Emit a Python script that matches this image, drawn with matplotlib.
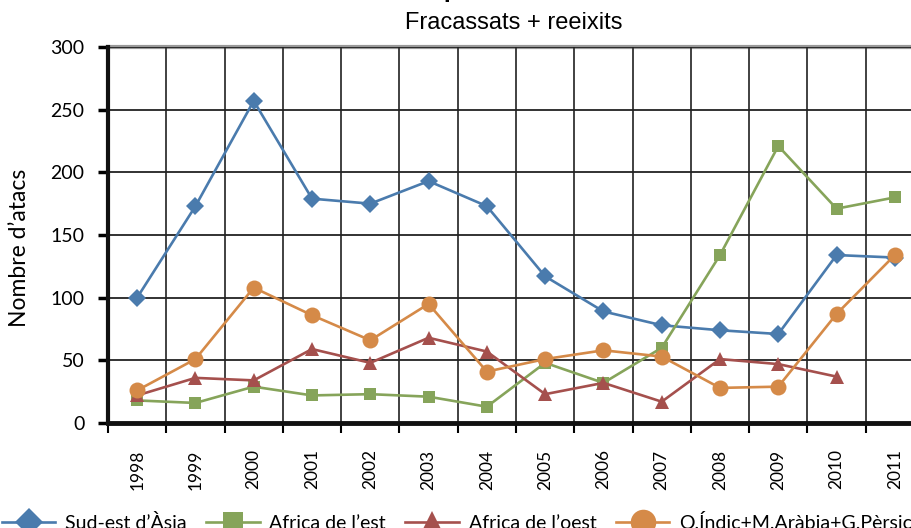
import numpy as np
import matplotlib
matplotlib.use('Agg')
import matplotlib.pyplot as plt

# Dades (llegides del gràfic)
anys = ['1998', '1999', '2000', '2001', '2002', '2003', '2004',
        '2005', '2006', '2007', '2008', '2009', '2010', '2011']
sud_est_asia = [100, 173, 257, 179, 175, 193, 173, 117, 89, 78, 74, 71, 134, 132]
africa_est = [18, 16, 29, 22, 23, 21, 13, 48, 32, 60, 134, 221, 171, 180]
africa_oest = [22, 36, 34, 59, 48, 68, 57, 23, 32, 17, 51, 47, 37, np.nan]
indic_arabia_persic = [26, 51, 108, 86, 66, 95, 41, 51, 58, 53, 28, 29, 87, 134]

etiquetes = ["Sud-est d’Àsia", "Africa de l’est", "Africa de l’oest", "O.Índic+M.Aràbia+G.Pèrsic"]
colors = ['#4A7BAD', '#86A45A', '#A5504D', '#D58A48']
marcadors = ['D', 's', '^', 'o']
mides = [9, 9, 10, 11.5]

plt.rcParams['font.family'] = ['Lato', 'DejaVu Sans']

fig = plt.figure(figsize=(9.12, 5.28), dpi=100)
ax = fig.add_axes([108 / 912, 105 / 528, 816 / 912, 376 / 528])

x = np.arange(len(anys))
series = [sud_est_asia, africa_est, africa_oest, indic_arabia_persic]
linies = []
for s, c, m, ms, lab in zip(series, colors, marcadors, mides, etiquetes):
    l, = ax.plot(x, s, color=c, marker=m, markersize=ms, linewidth=1.9,
                 markeredgewidth=0, label=lab, zorder=3)
    linies.append(l)

ax.set_xlim(-0.5, len(anys) - 0.5)
ax.set_ylim(0, 300)
ax.set_yticks(np.arange(0, 301, 50))
ax.set_xticks(np.arange(-0.5, len(anys), 1.0))
ax.set_xticklabels([])
ax.set_xticks(x, minor=True)
ax.set_xticklabels(anys, minor=True, rotation=90, fontsize=12.5)
ax.tick_params(axis='x', which='minor', length=0, pad=19)
ax.tick_params(axis='x', which='major', length=7, width=1.5, direction='out')
ax.tick_params(axis='y', length=7, width=2.5, direction='out', labelsize=14, pad=10)

ax.grid(axis='x', which='major', color='#333333', linewidth=1.3, zorder=0)
ax.grid(axis='y', color='#222222', linewidth=1.3, zorder=0)
ax.axhline(300, color='#999999', linewidth=3, zorder=1, clip_on=False)

for side in ['top', 'right']:
    ax.spines[side].set_visible(False)
ax.spines['left'].set_linewidth(3)
ax.spines['bottom'].set_linewidth(3.5)
ax.spines['left'].set_color('#111111')
ax.spines['bottom'].set_color('#111111')

ax.set_ylabel("Nombre d’atacs", fontsize=16.5)
ax.yaxis.set_label_coords(-0.096, 0.465)

fig.text(0.49, 1 + 3 / 528, 'Atacs pirates', ha='center', va='baseline',
         fontsize=18, fontweight='bold', family=['Liberation Sans', 'DejaVu Sans'])
fig.text(514 / 912, 1 - 23 / 528, 'Fracassats + reeixits', ha='center', va='center',
         fontsize=17, family=['Liberation Sans', 'DejaVu Sans'])

fig.legend(handles=linies, loc='center', bbox_to_anchor=(457 / 912, 5 / 528), ncol=4,
           frameon=False, fontsize=14, handlelength=2.75, columnspacing=1.0,
           handletextpad=0.5, markerscale=1.6)

fig.savefig('out.png', dpi=100)
